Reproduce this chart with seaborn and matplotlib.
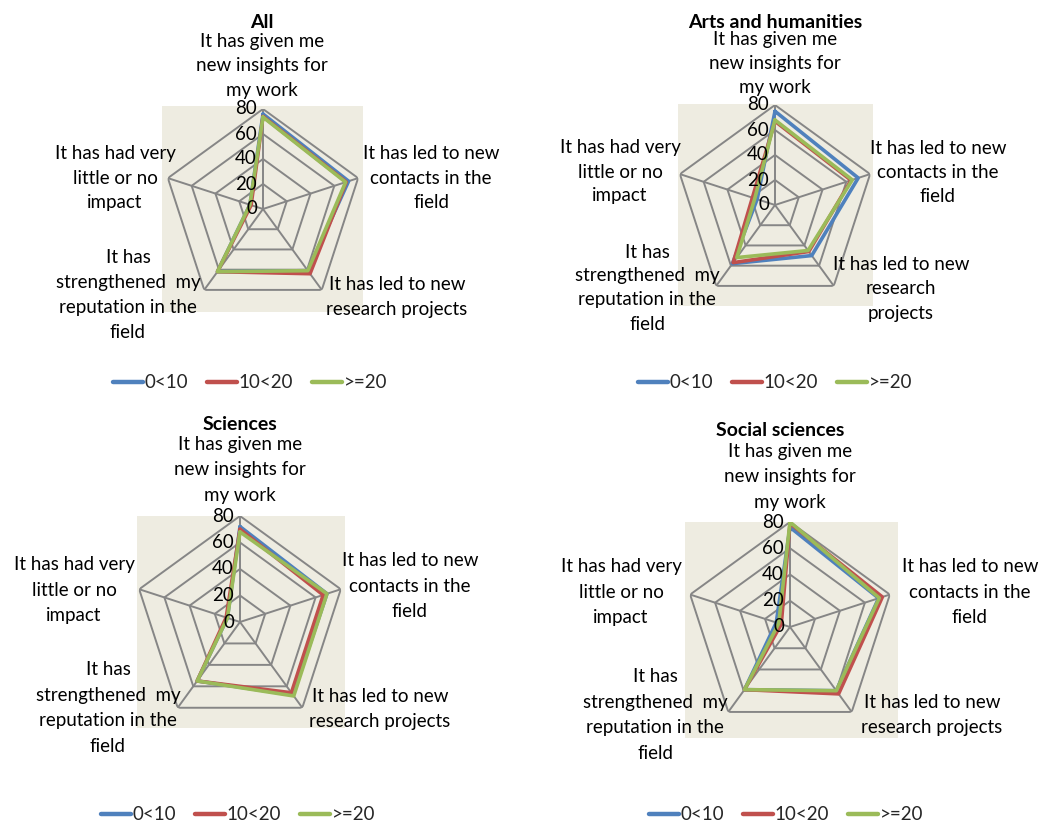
import numpy as np
import pandas as pd
import matplotlib
matplotlib.use("Agg")
import matplotlib.pyplot as plt
from matplotlib.transforms import ScaledTranslation
import seaborn as sns

# ---------------- data ----------------
categories = [
    "It has given me\nnew insights for\nmy work",
    "It has led to new\ncontacts in the\nfield",
    "It has led to new\nresearch projects",
    "It has\nstrengthened  my\nreputation in the\nfield",
    "It has had very\nlittle or no\nimpact",
]
# the Arts panel wraps the third category over three lines
categories_arts = list(categories)
categories_arts[2] = "It has led to new\nresearch\nprojects"

series_names = ["0<10", "10<20", ">=20"]
panel_titles = ["All", "Arts and humanities", "Sciences", "Social sciences"]

all_0_10 = [76, 72, 61, 62, 11]
all_10_20 = [74, 70, 64, 62, 10]
all_20 = [73.5, 69.5, 61, 62, 11]

arts_0_10 = [75, 70, 50, 58, 15]
arts_10_20 = [67, 64, 46, 57, 19]
arts_20 = [68, 65, 45, 52, 17]

sci_0_10 = [72, 69, 68, 55, 10]
sci_10_20 = [70, 66, 66, 55, 11]
sci_20 = [68, 69, 69, 55, 10]

soc_0_10 = [76, 71, 60, 59, 11]
soc_10_20 = [79, 74, 63, 59, 7]
soc_20 = [80, 71.5, 60, 59, 9]

r_ticks = [0, 20, 40, 60, 80]

panel_values = [
    [all_0_10, all_10_20, all_20],
    [arts_0_10, arts_10_20, arts_20],
    [sci_0_10, sci_10_20, sci_20],
    [soc_0_10, soc_10_20, soc_20],
]
panel_categories = [categories, categories_arts, categories, categories]

# ---------------- style ----------------
sns.set_theme(style="white")
plt.rcParams["font.family"] = ["Lato", "DejaVu Sans"]

W, H = 1040, 825
fig = plt.figure(figsize=(W / 100, H / 100), dpi=100)

def fx(x):
    return x / W

def fy(y):
    return 1 - y / H

colors = ["#4F81BD", "#C0504D", "#9BBB59"]
palette = dict(zip(series_names, colors))
grid_col = "#868686"
bg_col = "#EEECE1"

# layout (pixels)
layout = [
    dict(center=(263, 209), R=100, bg=(162, 106, 363, 312), title=(262, 23), ls=1.55,
         labels=[(262, 66), (431, 178), (397, 297), (128, 295), (115, 178)],
         legend=(250, 383)),
    dict(center=(775, 205), R=100, bg=(678, 104, 873, 306), title=(775, 22), ls=1.5,
         labels=[(775, 64), (938, 172), (901, 289), (647, 288), (620, 172)],
         legend=(775, 383)),
    dict(center=(240, 622), R=106, bg=(137, 516, 345, 728), title=(240, 424), ls=1.6,
         labels=[(240, 470), (410, 586), (380, 709), (108, 708), (74, 590)],
         legend=(238, 815)),
    dict(center=(790, 627), R=105, bg=(685, 522, 898, 738), title=(780, 430), ls=1.6,
         labels=[(790, 477), (970, 592), (932, 715), (655, 715), (621, 592)],
         legend=(786, 815)),
]

n = len(categories)
thetas = np.linspace(0, 2 * np.pi, n, endpoint=False)
thetas_closed = np.append(thetas, thetas[0])

label_fs = 13.5

for p, (title, vals, cats, lay) in enumerate(zip(panel_titles, panel_values,
                                                  panel_categories, layout)):
    # beige plot-area background
    x0, y0, x1, y1 = lay["bg"]
    bg_ax = fig.add_axes([fx(x0), fy(y1), fx(x1 - x0), (y1 - y0) / H])
    bg_ax.set_facecolor(bg_col)
    bg_ax.set_xticks([])
    bg_ax.set_yticks([])
    for s in bg_ax.spines.values():
        s.set_visible(False)

    cx, cy = lay["center"]
    R = lay["R"]
    ax = fig.add_axes([fx(cx - R), fy(cy + R), 2 * R / W, 2 * R / H], projection="polar")
    ax.set_theta_zero_location("N")
    ax.set_theta_direction(-1)
    ax.patch.set_alpha(0)
    ax.grid(False)
    ax.spines["polar"].set_visible(False)
    ax.set_xticks([])
    ax.set_yticks([])
    ax.set_ylim(0, 80)

    # pentagon grid
    for ring in r_ticks[1:]:
        ax.plot(thetas_closed, [ring] * (n + 1), color=grid_col, lw=1.4, zorder=1)
    for th in thetas:
        ax.plot([th, th], [0, 80], color=grid_col, lw=1.4, zorder=1)

    # data
    rows = []
    for sname, v in zip(series_names, vals):
        vv = list(v) + [v[0]]
        for i, (th, val) in enumerate(zip(thetas_closed, vv)):
            rows.append(dict(series=sname, theta=th, value=val, order=i))
    df = pd.DataFrame(rows)
    sns.lineplot(data=df, x="theta", y="value", hue="series", hue_order=series_names,
                 palette=palette, sort=False, estimator=None, lw=2.6, ax=ax,
                 legend=True, zorder=3)
    handles, labels = ax.get_legend_handles_labels()
    if ax.get_legend() is not None:
        ax.get_legend().remove()
    ax.set_xlabel("")
    ax.set_ylabel("")
    ax.set_xticks([])
    ax.set_yticks([])
    ax.set_ylim(0, 80)

    # radial tick labels
    off = ScaledTranslation(-6 / 100, 0, fig.dpi_scale_trans)
    for v in r_ticks:
        ax.text(0, v, str(v), transform=ax.transData + off, ha="right", va="center",
                fontsize=label_fs, color="black", zorder=5)

    # category labels
    for lab, (lx, ly) in zip(cats, lay["labels"]):
        fig.text(fx(lx), fy(ly), lab, ha="center", va="center", fontsize=label_fs,
                 linespacing=lay["ls"], color="black")

    # title
    tx, ty = lay["title"]
    fig.text(fx(tx), fy(ty), title, ha="center", va="center", fontsize=14,
             fontweight="bold", color="black")

    # legend
    lx, ly = lay["legend"]
    leg = fig.legend(handles, labels, loc="center", bbox_to_anchor=(fx(lx), fy(ly)),
                     ncol=3, frameon=False, fontsize=label_fs, handlelength=1.6,
                     handletextpad=0.1, columnspacing=1.0)
    for lh in leg.get_lines():
        lh.set_linewidth(3.2)

fig.savefig("out.png", dpi=100)
